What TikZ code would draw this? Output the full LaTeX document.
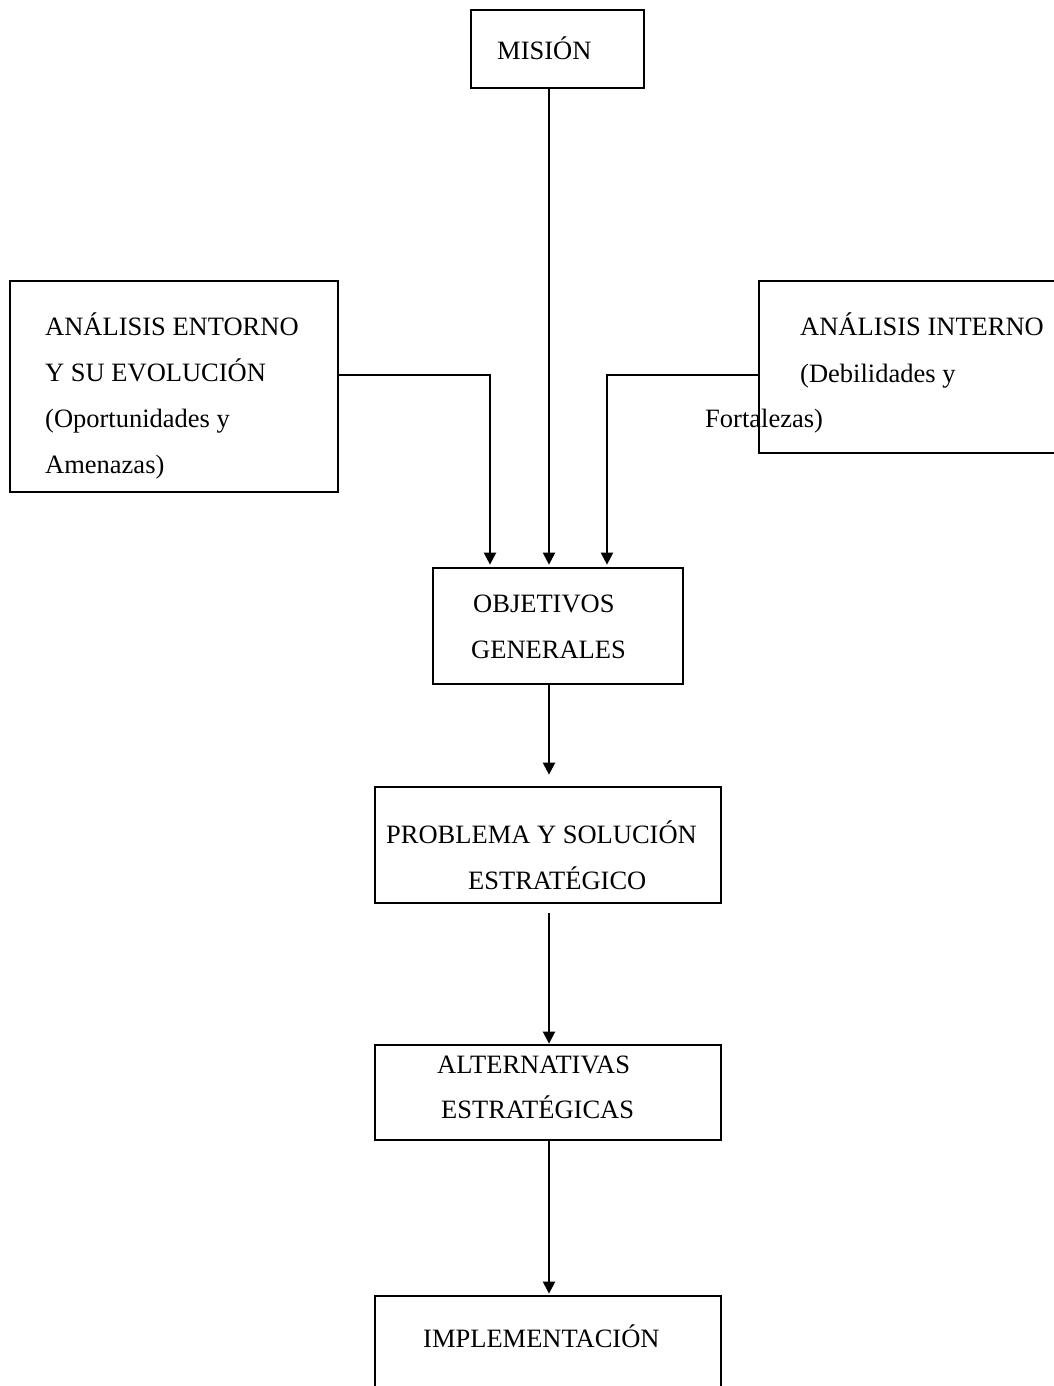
\documentclass[tikz,border=0pt]{standalone}
\usepackage{fontspec}
\setmainfont{Liberation Serif}
\usetikzlibrary{arrows.meta}
\begin{document}
\begin{tikzpicture}[x=1pt,y=-1pt,
  box/.style={draw=black,line width=2.7pt,rectangle,inner sep=0pt,fill=none},
  lbl/.style={anchor=base west,inner sep=0pt,font=\fontsize{26.5}{30}\selectfont},
  conn/.style={draw=black,line width=2.2pt},
  arr/.style={conn,-{Triangle[length=12pt,width=12pt]}}]
\useasboundingbox (0,0) rectangle (1054,1386);
\fill[white] (0,0) rectangle (1054,1386);
% boxes
\node[box,minimum width=173pt,minimum height=78pt] (mision) at (557.5,49) {};
\node[box,minimum width=328pt,minimum height=211pt] (entorno) at (174,386.5) {};
\node[box,minimum width=320pt,minimum height=172pt] (interno) at (919,367) {};
\node[box,minimum width=250pt,minimum height=116pt] (objetivos) at (558,626) {};
\node[box,minimum width=346pt,minimum height=116pt] (problema) at (548,845) {};
\node[box,minimum width=346pt,minimum height=95pt] (alternativas) at (548,1092.5) {};
\node[box,minimum width=346pt,minimum height=110pt] (implementacion) at (548,1351) {};
% texts
\node[lbl] (t1) at (497,60) {MISIÓN};
\node[lbl] (t2) at (45,335) {ANÁLISIS ENTORNO};
\node[lbl] (t3) at (45,381) {Y SU EVOLUCIÓN};
\node[lbl] (t4) at (45,427) {(Oportunidades y};
\node[lbl] (t5) at (45,473) {Amenazas)};
\node[lbl] (t6) at (800,335) {ANÁLISIS INTERNO};
\node[lbl] (t7) at (800,382) {(Debilidades y};
\node[lbl] (t8) at (705,427) {Fortalezas)};
\node[lbl] (t9) at (473,612) {OBJETIVOS};
\node[lbl] (t10) at (471,658) {GENERALES};
\node[lbl] (t11) at (386,843) {PROBLEMA Y SOLUCIÓN};
\node[lbl] (t12) at (468,889) {ESTRATÉGICO};
\node[lbl] (t13) at (437,1073) {ALTERNATIVAS};
\node[lbl] (t14) at (441,1118) {ESTRATÉGICAS};
\node[lbl] (t15) at (423,1347) {IMPLEMENTACIÓN};
% helper coordinates
\coordinate (lj) at (490,375);
\coordinate (rj) at (607,375);
\coordinate (mj) at (549,0);
% connectors
\draw[arr] (entorno.east |- lj) -- (lj) -- ([yshift=2pt]objetivos.north -| lj);
\draw[arr] (interno.west |- rj) -- (rj) -- ([yshift=2pt]objetivos.north -| rj);
\draw[arr] (mision.south -| mj) -- ([yshift=2pt]objetivos.north -| mj);
\draw[arr] ([yshift=2pt]objetivos.south -| mj) -- ([yshift=11pt]problema.north -| mj);
\draw[arr] ([yshift=-9pt]problema.south -| mj) -- (alternativas.north -| mj);
\draw[arr] (alternativas.south -| mj) -- ([yshift=1pt]implementacion.north -| mj);
\end{tikzpicture}
\end{document}
